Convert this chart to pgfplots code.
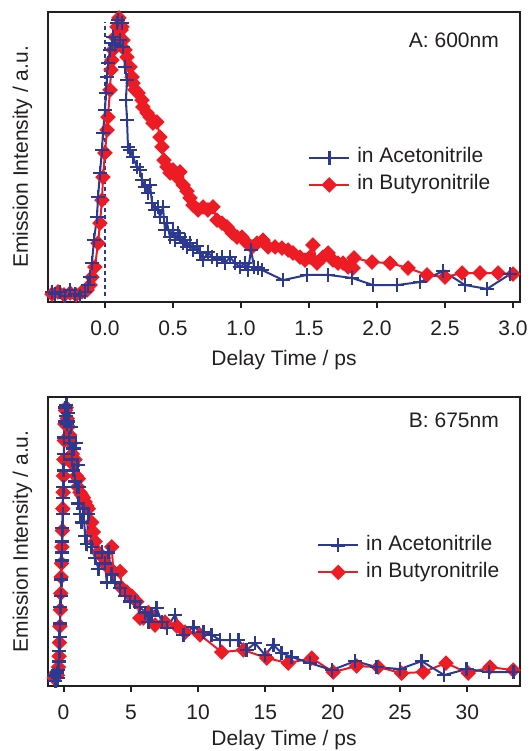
\documentclass[border=0pt]{standalone}
\usepackage{fontspec}
\setmainfont{Liberation Sans}
\usepackage{pgfplots}
\pgfplotsset{compat=1.18}
\definecolor{cblue}{RGB}{43,57,144}
\definecolor{cred}{RGB}{237,28,36}
\definecolor{ink}{RGB}{35,31,32}
\newcommand{\bigfont}{\fontsize{21}{25}\selectfont}

\pgfplotsset{
  panel/.style={
    scale only axis, width=472pt,
    clip=false,
    axis line style={line width=2pt, ink},
    every tick/.style={line width=2pt, ink},
    tick align=outside, xtick pos=bottom, major tick length=6pt,
    ytick=\empty,
    /pgf/number format/assume math mode=true,
    tick label style={font=\bigfont, text=ink},
    x tick label style={anchor=north, inner sep=0pt, yshift=-13pt},
    label style={font=\bigfont, text=ink},
    ylabel style={at={(axis description cs:-0.0424,0.5)}, anchor=base},
    legend style={draw=none, fill=none, inner sep=0pt, font=\bigfont, text=ink,
      row sep=7pt, column sep=7pt,
      nodes={inner sep=0pt, text height=15pt, text depth=5pt, anchor=west}},
    legend cell align=left,
    legend image code/.code={\draw[mark repeat=2, mark phase=2] plot coordinates {(0pt,0pt) (20pt,0pt) (40pt,0pt)};},
    reverse legend,
  },
  acn/.style={cblue, line width=2pt, mark=+, mark size=7pt, mark options={line width=2.5pt, solid}},
  btn/.style={cred, line width=2pt, mark=square*, mark size=4.5pt, mark options={solid, rotate=45}},
}

\begin{document}
\begin{tikzpicture}[font=\bigfont]
\useasboundingbox (0pt,0pt) rectangle (530pt,751pt);

% ---------------- Panel A ----------------
\begin{axis}[panel,
  at={(48pt,449pt)}, anchor=south west, height=290pt,
  xmin=-0.419, xmax=3.051, ymin=-0.0328, ymax=1.0255,
  xtick={0,0.5,...,3.0},
  xticklabel style={/pgf/number format/.cd, fixed, fixed zerofill, precision=1},
  xlabel={Delay Time / ps},
  xlabel style={at={(axis description cs:0.5,-0.2207)}, anchor=base},
  ylabel={Emission Intensity / a.u.},
  legend style={at={(axis description cs:0.551,0.45)}, anchor=west},
]
\addplot[cblue, line width=1.5pt, dash pattern=on 4pt off 3pt, forget plot] coordinates {(0,-0.01) (0,0.99)};
\addplot[btn] coordinates {
(-0.390,-0.004) (-0.346,0.004) (-0.301,-0.007) (-0.257,0.000) (-0.213,-0.007)
(-0.169,0.004) (-0.132,0.011) (-0.110,0.029) (-0.096,0.058) (-0.074,0.095)
(-0.051,0.182) (-0.037,0.255) (-0.022,0.339) (-0.015,0.423) (0.000,0.511)
(0.015,0.595) (0.022,0.642) (0.037,0.741) (0.044,0.814) (0.051,0.850)
(0.059,0.887) (0.074,0.934) (0.088,0.971) (0.103,1.004) (0.118,0.960)
(0.125,0.971) (0.132,0.923) (0.147,0.887) (0.162,0.861) (0.184,0.825)
(0.199,0.788) (0.206,0.766) (0.221,0.741) (0.243,0.730) (0.272,0.704)
(0.279,0.679) (0.309,0.657) (0.331,0.642) (0.353,0.620) (0.382,0.624)
(0.404,0.569) (0.419,0.533) (0.434,0.485) (0.456,0.460) (0.478,0.438)
(0.500,0.449) (0.529,0.423) (0.551,0.442) (0.574,0.394) (0.603,0.372)
(0.625,0.347) (0.647,0.321) (0.684,0.303) (0.721,0.314) (0.757,0.303)
(0.794,0.314) (0.824,0.266) (0.860,0.255) (0.897,0.241) (0.934,0.219)
(0.971,0.204) (1.007,0.204) (1.044,0.182) (1.081,0.168) (1.118,0.182)
(1.162,0.193) (1.199,0.168) (1.250,0.168) (1.301,0.164) (1.346,0.157)
(1.382,0.146) (1.434,0.131) (1.471,0.120) (1.507,0.131) (1.529,0.175)
(1.559,0.109) (1.603,0.131) (1.640,0.146) (1.676,0.120) (1.713,0.109)
(1.750,0.109) (1.787,0.095) (1.824,0.091) (1.831,0.128) (1.963,0.113)
(2.096,0.109) (2.228,0.091) (2.368,0.066) (2.500,0.058) (2.625,0.073)
(2.757,0.073) (2.890,0.073) (3.000,0.069)
};
\addlegendentry{in Butyronitrile}
\addplot[acn] coordinates {
(-0.390,0.004) (-0.368,-0.004) (-0.331,0.004) (-0.294,-0.011) (-0.257,0.011)
(-0.221,-0.004) (-0.184,-0.011) (-0.147,0.004) (-0.125,0.029) (-0.110,0.058)
(-0.096,0.109) (-0.081,0.193) (-0.059,0.277) (-0.051,0.350) (-0.037,0.438)
(-0.022,0.522) (-0.015,0.584) (0.000,0.668) (0.007,0.730) (0.015,0.788)
(0.022,0.839) (0.037,0.887) (0.051,0.912) (0.059,0.934) (0.074,0.905)
(0.088,0.985) (0.096,0.996) (0.110,0.923) (0.125,0.985) (0.132,0.898)
(0.147,0.825) (0.162,0.777) (0.154,0.704) (0.162,0.631) (0.169,0.533)
(0.184,0.522) (0.206,0.496) (0.235,0.460) (0.257,0.449) (0.272,0.412)
(0.294,0.387) (0.316,0.365) (0.331,0.394) (0.346,0.328) (0.368,0.303)
(0.390,0.314) (0.404,0.277) (0.426,0.314) (0.441,0.230) (0.456,0.255)
(0.478,0.204) (0.500,0.230) (0.515,0.193) (0.537,0.219) (0.551,0.204)
(0.574,0.182) (0.588,0.193) (0.603,0.168) (0.625,0.182) (0.647,0.157)
(0.676,0.172) (0.699,0.146) (0.721,0.120) (0.757,0.150) (0.787,0.131)
(0.824,0.120) (0.860,0.131) (0.882,0.109) (0.919,0.131) (0.956,0.109)
(0.993,0.095) (1.029,0.109) (1.051,0.084) (1.074,0.157) (1.096,0.095)
(1.125,0.091) (1.154,0.084) (1.309,0.047) (1.485,0.066) (1.640,0.066)
(1.816,0.055) (1.971,0.029) (2.147,0.029) (2.316,0.040) (2.485,0.080)
(2.647,0.029) (2.809,0.015) (2.978,0.069)
};
\addlegendentry{in Acetonitrile}
\node[anchor=base east, inner sep=0pt, text=ink] at (axis description cs:0.9555,0.876) {A: 600nm};
\end{axis}

% ---------------- Panel B ----------------
\begin{axis}[panel,
  at={(48pt,65pt)}, anchor=south west, height=289pt,
  xmin=-1.157, xmax=33.92, ymin=-0.029, ymax=1.029,
  xtick={0,5,...,30},
  xlabel={Delay Time / ps},
  xlabel style={at={(axis description cs:0.5,-0.2076)}, anchor=base},
  ylabel={Emission Intensity / a.u.},
  legend style={at={(axis description cs:0.570,0.44)}, anchor=west},
]
\addplot[btn] coordinates {
(-0.70,0.00) (-0.55,0.02) (-0.45,0.01) (-0.38,0.04) (-0.33,0.08)
(-0.30,0.13) (-0.27,0.19) (-0.24,0.25) (-0.21,0.31) (-0.18,0.37)
(-0.15,0.42) (-0.12,0.48) (-0.09,0.54) (-0.06,0.62) (-0.03,0.68)
(0.00,0.74) (0.03,0.80) (0.06,0.87) (0.10,0.93) (0.14,0.98)
(0.20,0.99) (0.27,0.95) (0.35,0.92) (0.45,0.89) (0.55,0.86)
(0.65,0.82) (0.75,0.78) (0.85,0.80) (0.95,0.74) (1.05,0.70)
(1.10,0.73) (1.22,0.68) (1.35,0.67) (1.47,0.66) (1.60,0.645)
(1.72,0.63) (1.84,0.62) (2.09,0.57) (2.21,0.535) (2.34,0.50)
(2.59,0.46) (2.96,0.44) (3.21,0.41) (3.58,0.48) (3.70,0.39)
(4.20,0.39) (4.32,0.33) (4.70,0.315) (5.07,0.30) (5.44,0.28)
(5.68,0.22) (5.93,0.22) (6.30,0.24) (6.80,0.194) (7.54,0.205)
(8.41,0.19) (9.03,0.168) (10.14,0.158) (11.75,0.095) (13.36,0.103)
(15.10,0.073) (16.70,0.055) (18.44,0.073) (20.04,0.022) (21.78,0.044)
(23.39,0.040) (25.12,0.018) (26.73,0.022) (28.42,0.055) (30.07,0.018)
(31.69,0.040) (33.42,0.029)
};
\addlegendentry{in Butyronitrile}
\addplot[acn] coordinates {
(-0.70,0.01) (-0.60,-0.01) (-0.50,0.02) (-0.45,0.00) (-0.40,0.03)
(-0.35,0.06) (-0.32,0.10) (-0.29,0.15) (-0.26,0.20) (-0.23,0.26)
(-0.20,0.30) (-0.17,0.36) (-0.14,0.43) (-0.12,0.46) (-0.10,0.50)
(-0.08,0.55) (-0.06,0.60) (-0.04,0.66) (-0.02,0.70) (0.00,0.76)
(0.02,0.82) (0.05,0.88) (0.08,0.94) (0.11,0.99) (0.15,0.96)
(0.20,1.00) (0.25,0.93) (0.30,0.97) (0.36,0.94) (0.42,0.88)
(0.48,0.86) (0.55,0.92) (0.61,0.80) (0.67,0.84) (0.73,0.76)
(0.79,0.84) (0.85,0.72) (0.92,0.86) (0.98,0.70) (1.04,0.78)
(1.10,0.64) (1.16,0.70) (1.22,0.60) (1.35,0.57) (1.47,0.62)
(1.60,0.52) (1.72,0.49) (1.84,0.60) (2.09,0.48) (2.34,0.44)
(2.59,0.40) (2.84,0.46) (3.08,0.42) (3.21,0.35) (3.33,0.46)
(3.58,0.38) (3.83,0.35) (4.20,0.33) (4.57,0.30) (4.94,0.28)
(5.31,0.28) (5.68,0.26) (6.05,0.24) (6.30,0.205) (6.55,0.23)
(6.92,0.256) (7.30,0.205) (7.67,0.183) (8.28,0.231) (8.90,0.158)
(9.64,0.187) (10.39,0.168) (11.01,0.158) (11.63,0.139) (12.37,0.139)
(12.99,0.139) (13.61,0.103) (14.23,0.128) (14.97,0.084) (15.59,0.121)
(16.21,0.092) (16.95,0.077) (18.31,0.055) (19.93,0.029) (21.66,0.062)
(23.27,0.040) (25.00,0.033) (26.61,0.062) (28.29,0.011) (29.96,0.033)
(31.63,0.022) (33.42,0.022)
};
\addlegendentry{in Acetonitrile}
\node[anchor=base east, inner sep=0pt, text=ink] at (axis description cs:0.9555,0.893) {B: 675nm};
\end{axis}
\end{tikzpicture}
\end{document}
